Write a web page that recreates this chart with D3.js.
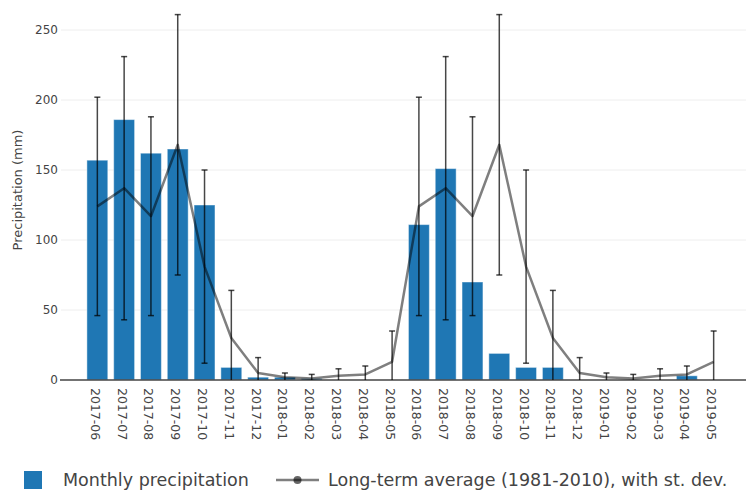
<!DOCTYPE html>
<html>
<head>
<meta charset="utf-8">
<script src="https://cdn.jsdelivr.net/npm/d3@7"></script>
<style>
  body { margin: 0; background: #fff; }
  svg { font-family: "DejaVu Sans", Verdana, sans-serif; }
</style>
</head>
<body>
<svg id="chart" width="746" height="490"></svg>
<script>
// monthly values
const months = ["2017-06","2017-07","2017-08","2017-09","2017-10","2017-11","2017-12",
  "2018-01","2018-02","2018-03","2018-04","2018-05","2018-06","2018-07","2018-08",
  "2018-09","2018-10","2018-11","2018-12","2019-01","2019-02","2019-03","2019-04","2019-05"];
const precip = [157, 186, 162, 165, 125, 9, 2, 2, 1, 0, 0, 0,
                111, 151, 70, 19, 9, 9, 0, 0, 0, 0, 3, 0];
const avg = [124, 137, 117, 168, 81, 30, 5, 2, 1, 3, 4, 13,
             124, 137, 117, 168, 81, 30, 5, 2, 1, 3, 4, 13];
const sd = [78, 94, 71, 93, 69, 34, 11, 3, 3, 5, 6, 22,
            78, 94, 71, 93, 69, 34, 11, 3, 3, 5, 6, 22];
const yTicks = [0, 50, 100, 150, 200, 250];

const svg = d3.select("#chart");
const left = 61, right = 746, bottom = 380;

const x = d3.scaleBand().domain(months).range([81, 730]).padding(0.22);
const y = d3.scaleLinear().domain([0, 250]).range([bottom, 30]);
const yc = v => y(Math.max(0, v));

// grid
svg.append("g").selectAll("line").data(yTicks.filter(d => d > 0)).join("line")
  .attr("x1", left).attr("x2", right)
  .attr("y1", d => y(d)).attr("y2", d => y(d))
  .attr("stroke", "#eee").attr("stroke-width", 1);

// y tick labels
svg.append("g").selectAll("text").data(yTicks).join("text")
  .attr("x", 58).attr("y", d => y(d)).attr("dy", "0.36em")
  .attr("text-anchor", "end").attr("font-size", 12).attr("fill", "#444")
  .text(d => d);

// y title
svg.append("text")
  .attr("transform", "translate(22,190) rotate(-90)")
  .attr("text-anchor", "middle").attr("font-size", 13).attr("fill", "#444")
  .text("Precipitation (mm)");

// bars
svg.append("g").selectAll("rect").data(months).join("rect")
  .attr("x", d => x(d)).attr("width", x.bandwidth())
  .attr("y", (d, i) => y(precip[i])).attr("height", (d, i) => bottom - y(precip[i]))
  .attr("fill", "#1f77b4")
  .attr("stroke", "rgba(255,255,255,0.45)").attr("stroke-width", 1);

// zero line
svg.append("line").attr("x1", 60).attr("x2", right)
  .attr("y1", bottom).attr("y2", bottom)
  .attr("stroke", "#444").attr("stroke-width", 1.5);

const cx = d => x(d) + x.bandwidth() / 2;

// long-term average line
const line = d3.line().x((d, i) => cx(months[i])).y(d => y(d));
svg.append("path").datum(avg)
  .attr("d", line).attr("fill", "none")
  .attr("stroke", "rgba(0,0,0,0.5)").attr("stroke-width", 2.5)
  .attr("stroke-linejoin", "round");

// error bars
const eb = svg.append("g").attr("stroke", "rgba(0,0,0,0.72)").attr("stroke-width", 1.5);
months.forEach((m, i) => {
  const xc = cx(m), hi = yc(avg[i] + sd[i]), lo = yc(avg[i] - sd[i]);
  eb.append("line").attr("x1", xc).attr("x2", xc).attr("y1", hi).attr("y2", lo);
  eb.append("line").attr("x1", xc - 3).attr("x2", xc + 3).attr("y1", hi).attr("y2", hi);
  if (avg[i] - sd[i] > 0)
    eb.append("line").attr("x1", xc - 3).attr("x2", xc + 3).attr("y1", lo).attr("y2", lo);
});

// x tick labels
svg.append("g").selectAll("text").data(months).join("text")
  .attr("transform", d => `translate(${cx(d) - 2},388) rotate(90)`)
  .attr("dy", "0.36em").attr("font-size", 12.5).attr("fill", "#444")
  .text(d => d);

// legend
const lg = svg.append("g");
lg.append("rect").attr("x", 24).attr("y", 471).attr("width", 18).attr("height", 18)
  .attr("fill", "#1f77b4");
lg.append("text").attr("x", 63).attr("y", 486).attr("font-size", 17.5).attr("fill", "#444")
  .text("Monthly precipitation");
lg.append("line").attr("x1", 276).attr("x2", 319).attr("y1", 480).attr("y2", 480)
  .attr("stroke", "rgba(0,0,0,0.5)").attr("stroke-width", 2.5);
lg.append("circle").attr("cx", 297.5).attr("cy", 480).attr("r", 4).attr("fill", "rgba(0,0,0,0.6)");
lg.append("text").attr("x", 328).attr("y", 486).attr("font-size", 17.5).attr("fill", "#444")
  .text("Long-term average (1981-2010), with st. dev.");
</script>
</body>
</html>
